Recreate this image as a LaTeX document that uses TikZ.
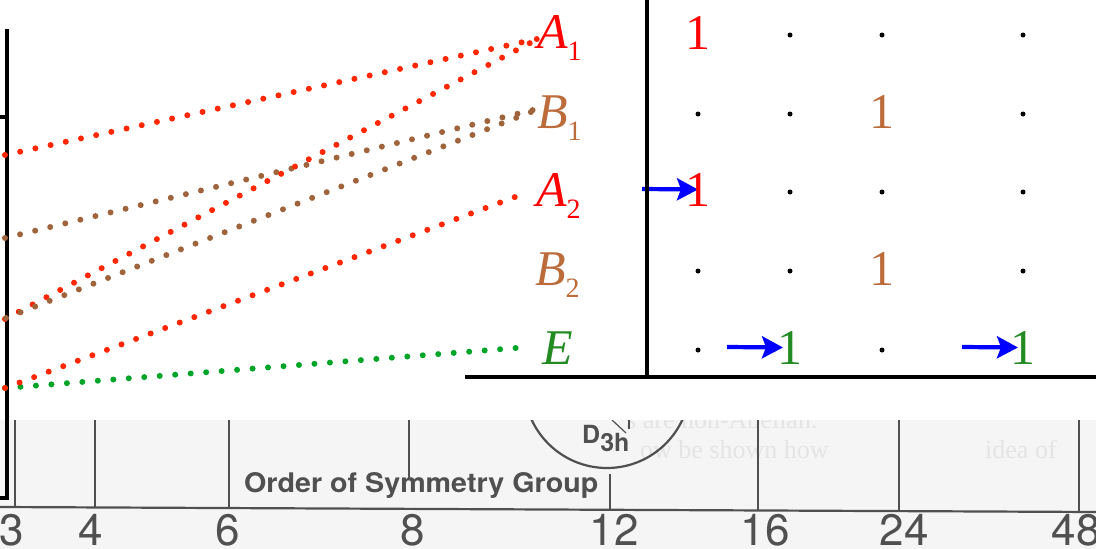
\documentclass[tikz,border=0pt]{standalone}
\usepackage{fontspec}
\setmainfont{Liberation Serif}
\newfontfamily\rulerfont{TeX Gyre Heros}
\usetikzlibrary{arrows.meta,calc}
\definecolor{dotred}{RGB}{255,38,0}
\definecolor{dotbrown}{RGB}{160,100,60}
\definecolor{dotgreen}{RGB}{0,165,40}
\definecolor{lblred}{RGB}{255,0,0}
\definecolor{lblbrown}{RGB}{188,108,58}
\definecolor{lblgreen}{RGB}{34,139,34}
\definecolor{rulergray}{RGB}{80,80,80}
\definecolor{scanbg}{RGB}{245,245,245}
\definecolor{ghostgray}{RGB}{228,228,228}
\newcommand{\mysubs}[1]{\raisebox{-12pt}{\fontsize{28}{28}\selectfont\upshape #1}}
\pgfdeclarelayer{bg}
\pgfsetlayers{bg,main}
\tikzset{
  axisline/.style={line width=3.3pt, black},
  dotline/.style={line width=6pt, line cap=round, dash pattern=on 0pt off #1},
  reddots/.style={dotline=#1, draw=dotred},
  browndots/.style={dotline=#1, draw=dotbrown},
  greendots/.style={dotline=#1, draw=dotgreen},
  lbl/.style={inner sep=0pt, anchor=base west, font=\fontsize{50}{50}\selectfont\itshape},
  entry/.style={inner sep=0pt, anchor=base, font=\fontsize{50}{50}\selectfont},
  mdot/.style={circle, fill=black, inner sep=0pt, minimum size=5pt},
  bluearr/.style={draw=blue, line width=4.2pt, -{Stealth[length=21pt,width=22pt,inset=4pt]}},
  ruler/.style={draw=rulergray, line width=2.2pt},
  rnum/.style={inner sep=0pt, anchor=base, text=rulergray, font=\rulerfont\fontsize{44}{44}\selectfont},
  ghost/.style={inner sep=0pt, anchor=base west, text=ghostgray, font=\fontsize{26}{26}\selectfont}
}
\begin{document}
\begin{tikzpicture}[x=1pt,y=-1pt]
\useasboundingbox (0,0) rectangle (1096,549);

% scanned ruler strip
\fill[scanbg] (0,420) rectangle (1096,549);
\begin{scope}
  \clip (0,420) rectangle (1096,549);
  \node[ghost] (g1) at (626,428) {s are non-Abelian.};
  \node[ghost] (g2) at (640,458) {ow be shown how};
  \node[ghost] (g3) at (985,458) {idea of};
  \draw[ruler] (607,385) circle[radius=83];
  \draw[rulergray, line width=1.2pt] (612,420) -- (626,433);
  \draw[rulergray, line width=1.2pt] (629,420) -- (629,429);
\end{scope}
\draw[ruler] (0,507) -- (1096,512);
\draw[ruler] (15,420) -- (15,507.1);
\draw[ruler] (95,420) -- (95,507.5);
\draw[ruler] (229,420) -- (229,508.1);
\draw[ruler] (409,420) -- (409,480);
\draw[ruler] (610,474) -- (610,509.8);
\draw[ruler] (758,420) -- (758,510.5);
\draw[ruler] (899,420) -- (899,511.1);
\draw[ruler] (1079,420) -- (1079,511.9);
\node[rnum] (n3) at (12,545) {3};
\node[rnum] (n4) at (91,545) {4};
\node[rnum] (n6) at (228,545) {6};
\node[rnum] (n8) at (413,545) {8};
\node[rnum] (n12) at (614,545) {12};
\node[rnum] (n16) at (765,545) {16};
\node[rnum] (n24) at (904,545) {24};
\node[rnum] (n48) at (1076,545) {48};
\node[inner sep=0pt, anchor=base west, text=rulergray] (ord) at (244,492)
  {\resizebox{354pt}{20pt}{\rulerfont\bfseries Order of Symmetry Group}};
\node[inner sep=0pt, anchor=base west, text=rulergray,
      font=\rulerfont\bfseries\fontsize{25}{25}\selectfont] (d3h) at (582,443)
  {D\raisebox{-8pt}{3h}};

% left axis
\draw[axisline] (7,29) -- (7,498) -- (0,498);
\draw[axisline] (0,117) -- (7,117);

% matrix frame
\draw[axisline] (647,0) -- (647,378.6);
\draw[axisline] (465,377) -- (1096,377);

% labels
\node[lbl, text=lblred]   (A1) at (537,48)  {A\mysubs{1}};
\node[lbl, text=lblbrown] (B1) at (537,128) {B\mysubs{1}};
\node[lbl, text=lblred]   (A2) at (536,206) {A\mysubs{2}};
\node[lbl, text=lblbrown] (B2) at (535,285) {B\mysubs{2}};
\node[lbl, text=lblgreen] (E)  at (542,364) {E};

% start points of the correlation lines
\coordinate (s1) at (5,155);
\coordinate (s2) at (5,238);
\coordinate (s3) at (5,319);
\coordinate (s4) at (6,318);
\coordinate (s5) at (5,388);
\coordinate (s6) at (5,388);

\draw[greendots=15.52pt] (s6) -- ($(E.base west)+(-26,-16)$);
\draw[reddots=15.55pt]   (s1) -- ($(A1.base west)+(0,-9)$);
\draw[browndots=15.51pt] (s2) -- ($(B1.base west)+(-4,-18)$);
\draw[reddots=15.60pt]   (s3) -- ($(A1.base west)+(-7,-5)$);
\draw[browndots=15.66pt] (s4) -- ($(B1.base west)+(-6,-16)$);
\draw[reddots=15.55pt]   (s5) -- ($(A2.base west)+(-21,-9)$);

% matrix entries
\node[entry, text=lblred]   (m11) at (698,49)  {1};
\node[mdot] (d12) at (790,35) {};
\node[mdot] (d13) at (882,35) {};
\node[mdot] (d14) at (1023,35) {};

\node[mdot] (d21) at (698,114) {};
\node[mdot] (d22) at (790,114) {};
\node[entry, text=lblbrown] (m23) at (882,128) {1};
\node[mdot] (d24) at (1023,114) {};

\node[entry, text=lblred]   (m31) at (698,206) {1};
\node[mdot] (d32) at (790,192) {};
\node[mdot] (d33) at (882,192) {};
\node[mdot] (d34) at (1023,192) {};

\node[mdot] (d41) at (698,271) {};
\node[mdot] (d42) at (790,271) {};
\node[entry, text=lblbrown] (m43) at (882,285) {1};
\node[mdot] (d44) at (1023,271) {};

\node[mdot] (d51) at (698,350) {};
\node[entry, text=lblgreen] (m52) at (790,364) {1};
\node[mdot] (d53) at (882,350) {};
\node[entry, text=lblgreen] (m54) at (1023,364) {1};

% blue arrows
\coordinate (ar3) at (642,189);
\coordinate (ar5a) at (727,347);
\coordinate (ar5b) at (962,347);
\begin{pgfonlayer}{bg}
\draw[bluearr] (ar3) -- (m31.center);
\end{pgfonlayer}
\draw[bluearr] (ar5a) -- ($(m52.center)+(-7,0)$);
\draw[bluearr] (ar5b) -- ($(m54.center)+(-5,0)$);
\end{tikzpicture}
\end{document}
